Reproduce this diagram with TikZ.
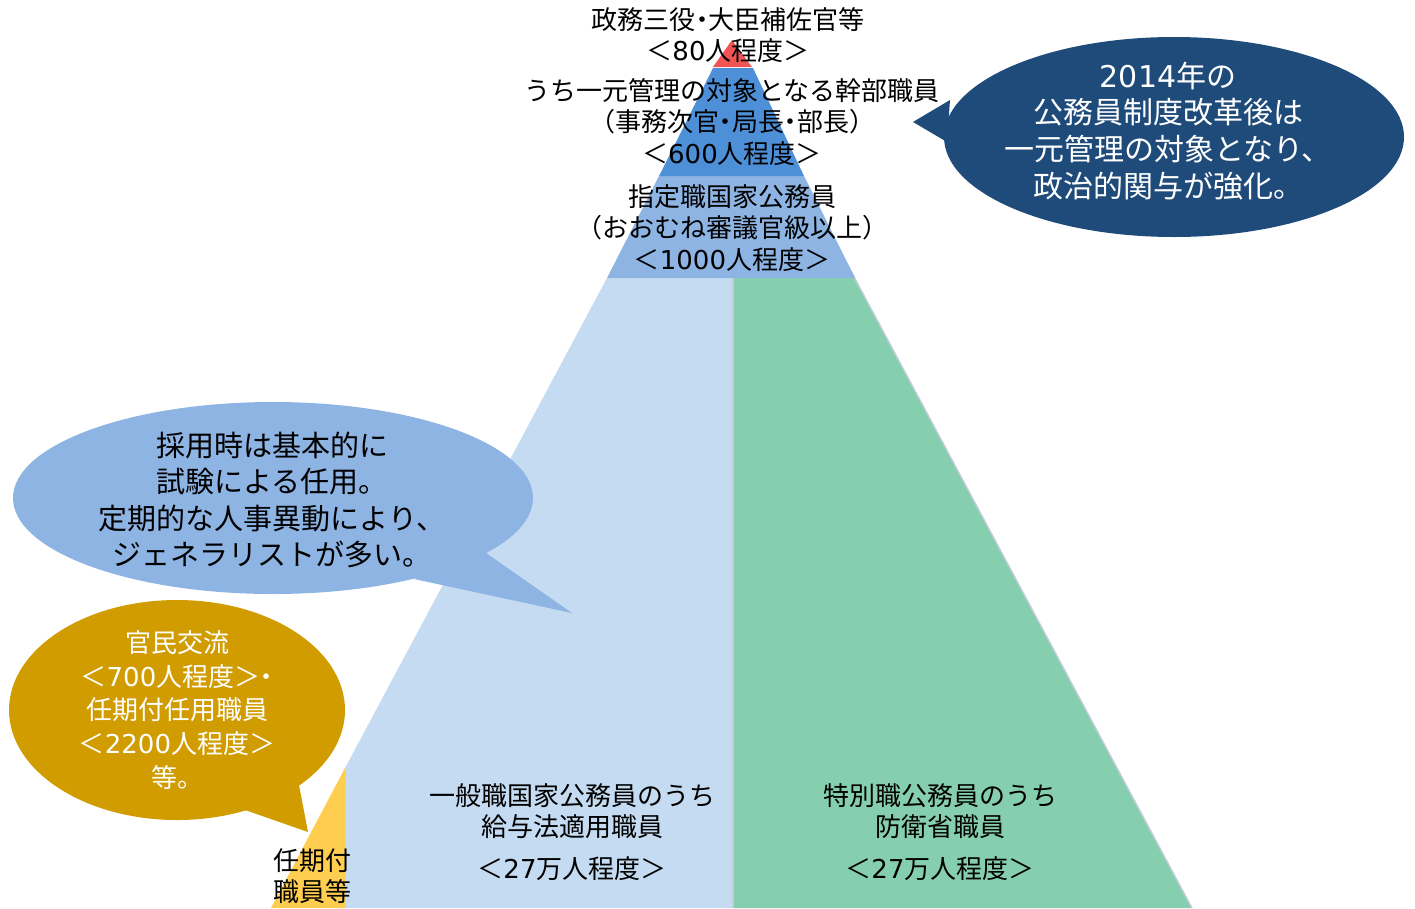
\documentclass[tikz,border=0pt]{standalone}
\usepackage{fontspec}
\newfontfamily\jp{Noto Sans CJK JP}
\newfontfamily\dv{DejaVu Sans}
\newcommand\nkt{\kern-0.25em・\kern-0.25em}
\newcommand\dg[1]{{\dv #1}}
\definecolor{cRed}{HTML}{F25454}
\definecolor{cDark}{HTML}{4E90D8}
\definecolor{cMed}{HTML}{8DB4E3}
\definecolor{cLight}{HTML}{C5DBF1}
\definecolor{cGreen}{HTML}{86CFAE}
\definecolor{cYellow}{HTML}{FFCD4F}
\definecolor{cEdge}{HTML}{C6CCDF}
\definecolor{cNavy}{HTML}{1F4B7A}
\definecolor{cGold}{HTML}{D09C00}
\begin{document}
\begin{tikzpicture}[x=1pt,y=-1pt,
  lbl/.style={inner sep=0pt, align=center, text=black, font=\jp\fontsize{26}{31.5}\selectfont},
  wlbl/.style={inner sep=0pt, align=center, text=white},
  ]
\useasboundingbox (0,0) rectangle (1415,908);
% pyramid
\fill[cGreen] (732,176) -- (800,176) -- (1192,908) -- (732,908) -- cycle;
\draw[cEdge, line width=1.4] (800,176) -- (1192,908);
\fill[cLight] (607,278) -- (732,278) -- (732,908) -- (345,908) -- (345,768) -- cycle;
\draw[cEdge, line width=1.2] (733,278) -- (733,908);
\fill[cYellow] (345,768) -- (271,908) -- (345,908) -- cycle;
\fill[cMed] (659,176) -- (804,176) -- (855,278) -- (607,278) -- cycle;
\fill[cDark] (713,68) -- (753,68) -- (804,176) -- (659,176) -- cycle;
\fill[cRed] (732,40) -- (752,67) -- (713,67) -- cycle;
% labels in pyramid
\node[lbl] (top1) at (728,35) {政務三役\nkt 大臣補佐官等\\＜\dg{80}人程度＞};
\node[lbl] (top2) at (732,122) {うち一元管理の対象となる幹部職員\\（事務次官\nkt 局長\nkt 部長）\\＜\dg{600}人程度＞};
\node[lbl] (top3) at (732,228) {指定職国家公務員\\（おおむね審議官級以上）\\＜\dg{1000}人程度＞};
\node[lbl] (gen) at (572,832) {一般職国家公務員のうち\\給与法適用職員\\[10pt]＜\dg{27}万人程度＞};
\node[lbl] (def) at (940,832) {特別職公務員のうち\\防衛省職員\\[10pt]＜\dg{27}万人程度＞};
\node[lbl] (ninki) at (312,876) {任期付\\職員等};
% navy callout
\fill[cNavy] (1174,137) ellipse [x radius=230, y radius=100];
\fill[cNavy] (950,100) -- (913,122) -- (947,142) -- cycle;
\node[wlbl, font=\jp\fontsize{30}{36.7}\selectfont] (navytxt) at (1168,131) {\dg{2014}年の\\公務員制度改革後は\\一元管理の対象となり、\\政治的関与が強化。};
% light blue callout
\fill[cMed] (273,498) ellipse [x radius=260, y radius=96];
\fill[cMed] (486,553) -- (572,613) -- (414,579) -- cycle;
\node[lbl, font=\jp\fontsize{29}{36.3}\selectfont] (bluetxt) at (272,500) {採用時は基本的に\\試験による任用。\\定期的な人事異動により、\\ジェネラリストが多い。};
% gold callout
\fill[cGold] (177,710) ellipse [x radius=168, y radius=110];
\fill[cGold] (299,785) -- (308,832) -- (245,810) -- cycle;
\node[wlbl, font=\jp\fontsize{26}{33.7}\selectfont] (goldtxt) at (177,710) {官民交流\\＜\dg{700}人程度＞\nkt\\任期付任用職員\\＜\dg{2200}人程度＞\\等。};
\end{tikzpicture}
\end{document}
